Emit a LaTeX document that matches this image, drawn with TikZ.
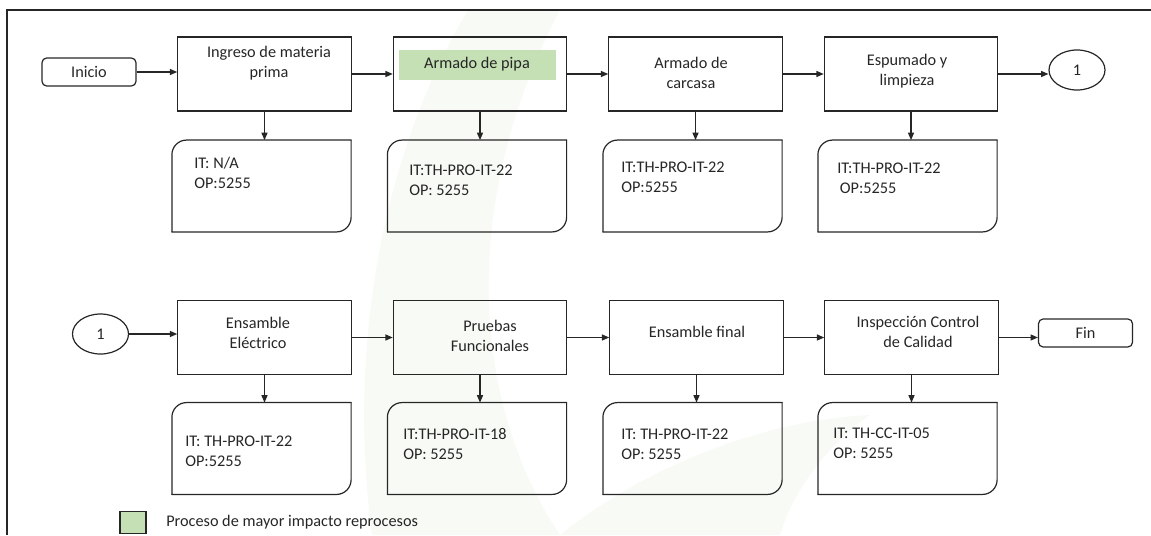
\documentclass[tikz,border=0pt]{standalone}
\usepackage{fontspec}
\setmainfont{Carlito}
\usetikzlibrary{arrows.meta,shapes.geometric}

\definecolor{linegray}{RGB}{38,38,38}
\definecolor{hilite}{RGB}{197,224,180}
\definecolor{leaf}{RGB}{248,251,245}

\begin{document}
\begin{tikzpicture}[x=0.75pt,y=-0.75pt,
  ln/.style={draw=linegray, line width=0.9pt},
  arr/.style={ln, -{Triangle[length=5.5pt,width=4.5pt]}},
  procbox/.style={ln, rectangle, minimum width=130pt, minimum height=55.5pt, inner sep=0pt},
  docbox/.style={rectangle, minimum width=134pt, minimum height=68.5pt, inner sep=0pt},
  termbox/.style={ln, rectangle, rounded corners=3.5pt, minimum width=70.5pt, minimum height=21pt, inner sep=0pt},
  conn/.style={ln, ellipse, minimum width=42pt, minimum height=30pt, inner sep=0pt},
  txt/.style={inner sep=0pt, align=center, text=linegray, font=\fontsize{12.2pt}{15pt}\selectfont},
  doctxt/.style={inner sep=0pt, align=left, anchor=west, text=linegray, font=\fontsize{12.2pt}{15pt}\selectfont},
]
\useasboundingbox (0,0) rectangle (1151,535);

% faint leaf emblem in the background
\fill[leaf] (468,10) .. controls (390,140) and (345,330) .. (372,535)
  -- (560,535) .. controls (470,400) and (460,200) .. (560,10) -- cycle;
\fill[leaf] (560,535) .. controls (640,470) and (760,420) .. (870,415)
  .. controls (820,450) and (790,500) .. (780,535) -- cycle;

% page frame
\draw[draw=linegray, line width=1.1pt] (7,535) -- (7,10) -- (1151,10);

% first row
\node[termbox] (ini) at (89,72) {};
\node[txt] (initxt) at (89,72) {Inicio};
\node[procbox] (b1) at (264.5,74) {};
\node[procbox] (b2) at (480,74) {};
\node[procbox] (b3) at (695.5,74) {};
\node[procbox] (b4) at (911,74) {};
\node[conn] (c1) at (1077,70) {};
\node[txt] (c1txt) at (1077,70) {1};

\node[rectangle, fill=hilite, minimum width=117.75pt, minimum height=22.5pt, inner sep=0pt] (hl) at (477.5,65) {};
\node[txt] (t1) at (269,63) {Ingreso de materia\\prima};
\node[txt] (t2) at (477,64) {Armado de pipa};
\node[txt] (t3) at (691,73) {Armado de\\carcasa};
\node[txt] (t4) at (907,71) {Espumado y\\limpieza};

\node[docbox] (d1) at (261.5,186) {};
\node[docbox] (d2) at (477,186) {};
\node[docbox] (d3) at (692.5,186) {};
\node[docbox] (d4) at (907.5,186) {};
\node[doctxt] (dt1) at (194,173) {IT: N/A\\OP:5255};
\node[doctxt] (dt2) at (409,180) {IT:TH-PRO-IT-22\\OP: 5255};
\node[doctxt] (dt3) at (621,177) {IT:TH-PRO-IT-22\\OP:5255};
\node[doctxt] (dt4) at (837,178) {IT:TH-PRO-IT-22\\\hspace{2pt}OP:5255};

% second row
\node[conn] (c2) at (100.5,334) {};
\node[txt] (c2txt) at (100.5,334) {1};
\node[procbox] (b5) at (264.5,337.5) {};
\node[procbox] (b6) at (480,337.5) {};
\node[procbox] (b7) at (696.5,337.5) {};
\node[procbox] (b8) at (911.5,337.5) {};
\node[termbox] (fin) at (1085.5,333) {};
\node[txt] (fintxt) at (1085.5,333) {Fin};

\node[txt] (t5) at (258,333) {Ensamble\\Eléctrico};
\node[txt] (t6) at (490,336) {Pruebas\\Funcionales};
\node[txt] (t7) at (697,332) {Ensamble final};
\node[txt] (t8) at (918,332) {Inspección Control\\de Calidad};

\node[docbox] (d5) at (261.5,448.5) {};
\node[docbox] (d6) at (477,448.5) {};
\node[docbox] (d7) at (692.5,448.5) {};
\node[docbox] (d8) at (907.5,448.5) {};
\node[doctxt] (dt5) at (185,451) {IT: TH-PRO-IT-22\\OP:5255};
\node[doctxt] (dt6) at (403,444) {IT:TH-PRO-IT-18\\OP: 5255};
\node[doctxt] (dt7) at (621,444) {IT: TH-PRO-IT-22\\OP: 5255};
\node[doctxt] (dt8) at (833,443) {IT: TH-CC-IT-05\\OP: 5255};

% document outlines: rounded top-left and bottom-right corners
\foreach \d in {d1,d2,d3,d4,d5,d6,d7,d8} {
  \draw[ln, rounded corners=11pt, line cap=round] (\d.south west) -- (\d.north west) -- (\d.north east);
  \draw[ln, rounded corners=11pt, line cap=round] (\d.north east) -- (\d.south east) -- (\d.south west);
}

% flow connectors
\draw[arr] (ini.east) -- (ini.east -| b1.west);
\draw[arr] (b1.east) -- (b2.west);
\draw[arr] (b2.east) -- (b3.west);
\draw[arr] (b3.east) -- (b4.west);
\draw[arr] (b4.east) -- (b4.east -| c1.west);
\draw[arr] (c2.east) -- (c2.east -| b5.west);
\draw[arr] (b5.east) -- (b6.west);
\draw[arr] (b6.east) -- (b7.west);
\draw[arr] (b7.east) -- (b8.west);
\draw[arr] (b8.east) -- (b8.east -| fin.west);
\foreach \b/\d in {b1/d1,b2/d2,b3/d3,b4/d4,b5/d5,b6/d6,b7/d7,b8/d8}
  \draw[arr] (\b.south) -- (\b.south |- \d.north);

% legend
\node[ln, fill=hilite, minimum width=19.5pt, minimum height=17pt, inner sep=0pt] (lg) at (133,522.5) {};
\node[doctxt] (lgtxt) at (166,522) {Proceso de mayor impacto reprocesos};
\end{tikzpicture}
\end{document}
